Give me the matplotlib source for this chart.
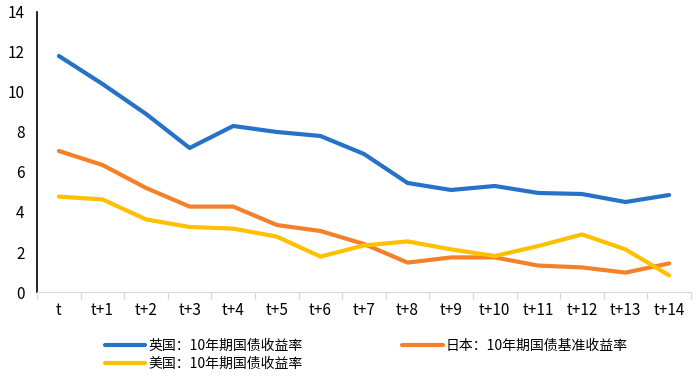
import numpy as np
import matplotlib.pyplot as plt
from matplotlib.ticker import FixedLocator

plt.rcParams['font.family'] = ['Noto Sans CJK SC', 'DejaVu Sans']

periods = ['t'] + ['t+%d' % i for i in range(1, 15)]
uk = [11.8, 10.4, 8.9, 7.2, 8.3, 8.0, 7.8, 6.9, 5.45, 5.1, 5.3, 4.95, 4.9, 4.5, 4.85]
japan = [7.05, 6.35, 5.2, 4.27, 4.27, 3.35, 3.05, 2.4, 1.47, 1.73, 1.73, 1.32, 1.23, 0.97, 1.43]
us = [4.77, 4.63, 3.63, 3.25, 3.17, 2.77, 1.77, 2.33, 2.53, 2.13, 1.8, 2.3, 2.88, 2.13, 0.83]

labels = ['英国：10年期国债收益率', '日本：10年期国债基准收益率', '美国：10年期国债收益率']
colours = ['#2672C6', '#F4812A', '#FFC000']

fig = plt.figure(figsize=(7, 3.86), dpi=100)
ax = fig.add_axes([0.053, 0.2435, 0.934, 0.7255])

x = np.arange(len(periods))
l1, = ax.plot(x, uk, color=colours[0], lw=3, solid_capstyle='round')
l2, = ax.plot(x, japan, color=colours[1], lw=3, solid_capstyle='round')
l3, = ax.plot(x, us, color=colours[2], lw=3, solid_capstyle='round')

ax.set_xlim(-0.5, len(periods) - 0.5)
ax.set_ylim(0, 14)
ax.set_yticks(range(0, 15, 2))
ax.set_xticks(x)
ax.set_xticklabels(periods)
ax.xaxis.set_minor_locator(FixedLocator(np.arange(-0.5, len(periods), 1)))
ax.tick_params(axis='x', which='major', length=0, pad=7, labelsize=11)
ax.tick_params(axis='x', which='minor', length=5, color='#D9D9D9', width=1)
ax.tick_params(axis='y', length=0, pad=9, labelsize=11)

for s in ['top', 'right']:
    ax.spines[s].set_visible(False)
ax.spines['bottom'].set_color('#D9D9D9')
ax.spines['left'].set_color('black')
ax.spines['left'].set_linewidth(1.2)

# legend: two columns, UK / US in the first, Japan in the second
fig.legend([l1, l3, l2], [labels[0], labels[2], labels[1]], ncol=2,
           loc='upper left', bbox_to_anchor=(105 / 700, 1 - 339 / 386),
           frameon=False, borderpad=0, borderaxespad=0,
           fontsize=10, handlelength=2.9, handletextpad=0.2,
           columnspacing=7.2, labelspacing=0.25)

fig.savefig('out.png', dpi=100)
